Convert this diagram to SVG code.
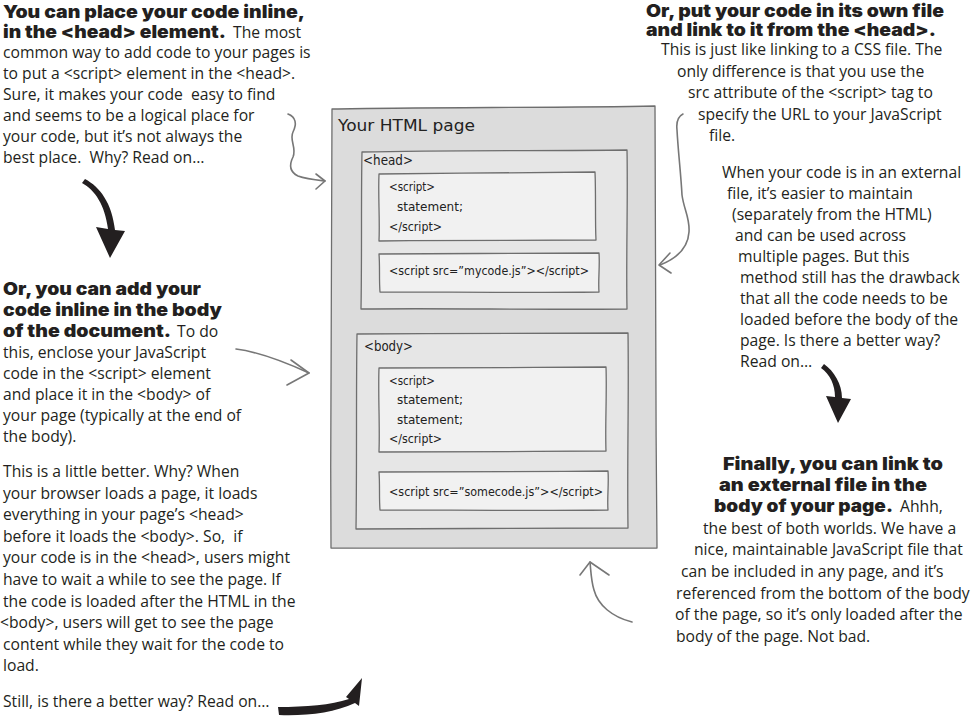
<svg xmlns="http://www.w3.org/2000/svg" width="974" height="716" viewBox="0 0 974 716">
<style>
.t{font-family:"Open Sans","Noto Sans","DejaVu Sans",sans-serif;font-size:15.7px;fill:#231f20;white-space:pre}
.b{font-family:"Inter","DejaVu Sans",sans-serif;font-weight:900;font-size:17.5px;fill:#231f20;white-space:pre}
.h{font-family:"DejaVu Sans",sans-serif;fill:#222;white-space:pre}
.box{stroke:#6e6e6e;stroke-width:1.3;stroke-linejoin:round}
.outer{fill:#dcdcdc}
.mid{fill:#e6e6e6}
.inner{fill:#f1f1f1}
.ga{fill:none;stroke:#777;stroke-width:1.6;stroke-linecap:round;stroke-linejoin:round}
.ba{fill:#231f20}
</style>
<rect width="974" height="716" fill="#fff"/>

<g id="html-page">
<path class="box outer" d="M332,109 C420,107 560,108 655,106 C657,250 655,400 657,548 C560,549 420,547 331,548 C330,400 332,250 332,109 Z"/>
<text class="h" x="338" y="131" font-size="15" textLength="137" lengthAdjust="spacingAndGlyphs">Your HTML page</text>
</g>

<g id="head">
<path class="box mid" d="M362,152 C450,150 550,151 627,150 C628,200 626,260 627,309 C530,310 450,308 361,309 C362,250 361,200 362,152 Z"/>
<text class="h" x="363" y="165" font-size="14" textLength="50" lengthAdjust="spacingAndGlyphs">&lt;head&gt;</text>
</g>

<g id="head-script">
<path class="box inner" d="M379,174 C450,173 530,173 595,172 C596,195 595,220 596,240 C520,241 450,240 379,241 C380,220 378,195 379,174 Z"/>
<text class="h" x="389" y="191" font-size="11.5" textLength="46" lengthAdjust="spacingAndGlyphs">&lt;script&gt;</text>
<text class="h" x="397" y="211" font-size="11.5" textLength="66" lengthAdjust="spacingAndGlyphs">statement;</text>
<text class="h" x="389" y="231" font-size="11.5" textLength="53" lengthAdjust="spacingAndGlyphs">&lt;/script&gt;</text>
</g>

<g id="head-link">
<path class="box inner" d="M379,254 C450,253 530,254 599,253 C600,266 598,280 599,292 C520,293 450,292 380,292 C379,280 380,266 379,254 Z"/>
<text class="h" x="389" y="275" font-size="11.5" textLength="200" lengthAdjust="spacingAndGlyphs">&lt;script src=”mycode.js”&gt;&lt;/script&gt;</text>
</g>

<g id="body">
<path class="box mid" d="M357,334 C450,333 550,334 628,333 C629,400 627,460 628,528 C530,529 450,528 356,529 C357,460 356,400 357,334 Z"/>
<text class="h" x="364" y="351" font-size="14" textLength="49" lengthAdjust="spacingAndGlyphs">&lt;body&gt;</text>
</g>

<g id="body-script">
<path class="box inner" d="M379,368 C450,367 530,368 606,367 C607,395 605,425 606,451 C530,452 450,451 379,452 C380,425 378,395 379,368 Z"/>
<text class="h" x="389" y="385" font-size="11.5" textLength="46" lengthAdjust="spacingAndGlyphs">&lt;script&gt;</text>
<text class="h" x="397" y="404" font-size="11.5" textLength="66" lengthAdjust="spacingAndGlyphs">statement;</text>
<text class="h" x="397" y="424" font-size="11.5" textLength="66" lengthAdjust="spacingAndGlyphs">statement;</text>
<text class="h" x="389" y="443" font-size="11.5" textLength="53" lengthAdjust="spacingAndGlyphs">&lt;/script&gt;</text>
</g>

<g id="body-link">
<path class="box inner" d="M379,472 C450,471 530,472 608,471 C609,484 607,498 608,510 C530,511 450,510 380,510 C379,498 380,484 379,472 Z"/>
<text class="h" x="389" y="496" font-size="11.5" textLength="214" lengthAdjust="spacingAndGlyphs">&lt;script src=”somecode.js”&gt;&lt;/script&gt;</text>
</g>

<g id="note-head-inline">
<text class="b" x="3" y="18" textLength="302" lengthAdjust="spacingAndGlyphs">You can place your code inline,</text>
<text class="b" x="3" y="38" textLength="223" lengthAdjust="spacingAndGlyphs">in the &lt;head&gt; element.</text>
<text class="t" x="233" y="38">The most</text>
<text class="t" x="3" y="58">common way to add code to your pages is</text>
<text class="t" x="3" y="79">to put a &lt;script&gt; element in the &lt;head&gt;.</text>
<text class="t" x="3" y="100">Sure, it makes your code  easy to find</text>
<text class="t" x="3" y="121">and seems to be a logical place for</text>
<text class="t" x="3" y="142">your code, but it’s not always the</text>
<text class="t" x="3" y="163">best place.  Why? Read on…</text>
</g>

<g id="note-body-inline">
<text class="b" x="3" y="295" textLength="198" lengthAdjust="spacingAndGlyphs">Or, you can add your</text>
<text class="b" x="3" y="316" textLength="219" lengthAdjust="spacingAndGlyphs">code inline in the body</text>
<text class="b" x="3" y="337" textLength="168" lengthAdjust="spacingAndGlyphs">of the document.</text>
<text class="t" x="177" y="337">To do</text>
<text class="t" x="3" y="358">this, enclose your JavaScript</text>
<text class="t" x="3" y="379">code in the &lt;script&gt; element</text>
<text class="t" x="3" y="400">and place it in the &lt;body&gt; of</text>
<text class="t" x="3" y="421">your page (typically at the end of</text>
<text class="t" x="3" y="442">the body).</text>
</g>

<g id="note-better">
<text class="t" x="3" y="477">This is a little better. Why? When</text>
<text class="t" x="3" y="498.6">your browser loads a page, it loads</text>
<text class="t" x="3" y="520.2">everything in your page’s &lt;head&gt;</text>
<text class="t" x="3" y="541.8">before it loads the &lt;body&gt;. So,  if</text>
<text class="t" x="3" y="563.4">your code is in the &lt;head&gt;, users might</text>
<text class="t" x="3" y="585">have to wait a while to see the page. If</text>
<text class="t" x="3" y="606.6">the code is loaded after the HTML in the</text>
<text class="t" x="0" y="628.2">&lt;body&gt;, users will get to see the page</text>
<text class="t" x="3" y="649.8">content while they wait for the code to</text>
<text class="t" x="3" y="671.4">load.</text>
<text class="t" x="3" y="707">Still, is there a better way? Read on…</text>
</g>

<g id="note-head-file">
<text class="b" x="646" y="17" textLength="298" lengthAdjust="spacingAndGlyphs">Or, put your code in its own file</text>
<text class="b" x="646" y="36" textLength="290" lengthAdjust="spacingAndGlyphs">and link to it from the &lt;head&gt;.</text>
<text class="t" x="661" y="55">This is just like linking to a CSS file. The</text>
<text class="t" x="677" y="76.5">only difference is that you use the</text>
<text class="t" x="688" y="98">src attribute of the &lt;script&gt; tag to</text>
<text class="t" x="698" y="119.5">specify the URL to your JavaScript</text>
<text class="t" x="709" y="141">file.</text>
</g>

<g id="note-external">
<text class="t" x="722" y="178">When your code is in an external</text>
<text class="t" x="727" y="199">file, it’s easier to maintain</text>
<text class="t" x="732" y="220">(separately from the HTML)</text>
<text class="t" x="735" y="241">and can be used across</text>
<text class="t" x="738" y="262">multiple pages. But this</text>
<text class="t" x="740" y="283">method still has the drawback</text>
<text class="t" x="740" y="304">that all the code needs to be</text>
<text class="t" x="740" y="325">loaded before the body of the</text>
<text class="t" x="740" y="346">page. Is there a better way?</text>
<text class="t" x="740" y="367">Read on…</text>
</g>

<g id="note-body-file">
<text class="b" x="723" y="470" textLength="220" lengthAdjust="spacingAndGlyphs">Finally, you can link to</text>
<text class="b" x="719" y="491" textLength="208" lengthAdjust="spacingAndGlyphs">an external file in the</text>
<text class="b" x="714" y="512" textLength="179" lengthAdjust="spacingAndGlyphs">body of your page.</text>
<text class="t" x="900" y="512">Ahhh,</text>
<text class="t" x="703" y="533.5">the best of both worlds. We have a</text>
<text class="t" x="694" y="555">nice, maintainable JavaScript file that</text>
<text class="t" x="681" y="577">can be included in any page, and it’s</text>
<text class="t" x="676" y="598.5">referenced from the bottom of the body</text>
<text class="t" x="675" y="620">of the page, so it’s only loaded after the</text>
<text class="t" x="676" y="641.5">body of the page. Not bad.</text>
</g>

<g id="connectors">
<path class="ga" d="M288,114 C296,117 297,124 293,132 C289,140 297,148 293,157 C289,165 290,172 298,176 C306,179 316,180 325,181"/>
<path class="ga" d="M316,174 L325,181 L316,189"/>
<path class="ga" d="M236,349 C260,352 285,362 309,373"/>
<path class="ga" d="M291,360 L309,373 L287,385"/>
<path class="ga" d="M683,114 C679,116 676,121 677,130 C678,150 681,175 682,195 C684,210 690,218 689,232 C688,248 678,258 660,265"/>
<path class="ga" d="M670,253 L659,265 L671,273"/>
<path class="ga" d="M632,622 C612,617 598,605 594,590 C591,580 591,572 590,562"/>
<path class="ga" d="M580,575 L590,562 L609,575"/>
<path class="ba" d="M82,183 C95,190 105,205 108,229 L96,227 L110,258 L125,231 L115,230 C112,203 100,187 85,179 Z"/>
<path class="ba" d="M821,368 C830,374 835,385 835,397 L826,396 L838,423 L851,399 L842,398 C842,384 834,371 824,364 Z"/>
<path class="ba" d="M278,707 C306,707 331,705 349,699 L346,697 L362,678 L359,706 L355,703 C334,713 306,716 279,715 Z"/>
</g>
</svg>
